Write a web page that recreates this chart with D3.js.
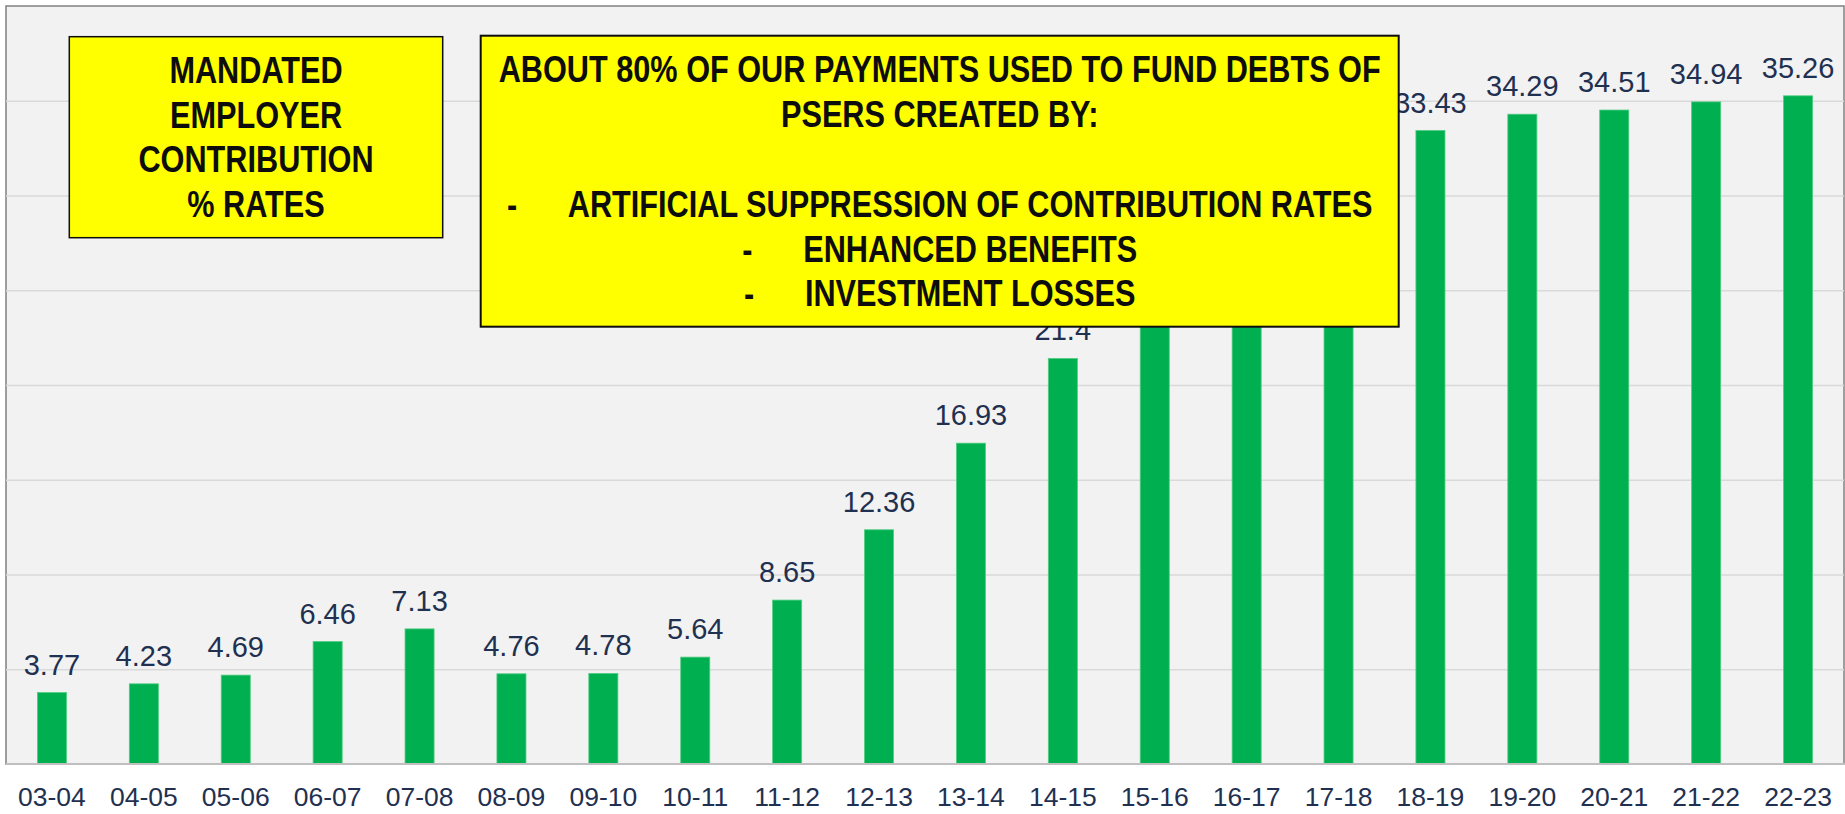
<!DOCTYPE html>
<html>
<head>
<meta charset="utf-8">
<script src="https://cdn.jsdelivr.net/npm/d3@7"></script>
<style>
  body { margin: 0; background: #fff; }
  svg { display: block; font-family: "Liberation Sans", Arial, sans-serif; }
</style>
</head>
<body>
<script>
// chart data
var years = ['03-04','04-05','05-06','06-07','07-08','08-09','09-10','10-11','11-12','12-13',
             '13-14','14-15','15-16','16-17','17-18','18-19','19-20','20-21','21-22','22-23'];
var rates = [3.77, 4.23, 4.69, 6.46, 7.13, 4.76, 4.78, 5.64, 8.65, 12.36,
             16.93, 21.4, 25.84, 30.03, 32.57, 33.43, 34.29, 34.51, 34.94, 35.26];
var gridTicks = [5, 10, 15, 20, 25, 30, 35];

// annotation text
var titleLines = ['MANDATED', 'EMPLOYER', 'CONTRIBUTION', '% RATES'];
var noteLines = [
  {dash: false, text: 'ABOUT 80% OF OUR PAYMENTS USED TO FUND DEBTS OF'},
  {dash: false, text: 'PSERS CREATED BY:'},
  {dash: false, text: ''},
  {dash: true, text: 'ARTIFICIAL SUPPRESSION OF CONTRIBUTION RATES'},
  {dash: true, text: 'ENHANCED BENEFITS'},
  {dash: true, text: 'INVESTMENT LOSSES'}
];

var width = 1845, height = 814;
var plotL = 6, plotR = 1844, plotT = 6, plotB = 764;
var navy = '#1f3050';

var svg = d3.select('body').append('svg')
  .attr('width', width)
  .attr('height', height);

svg.append('rect')
  .attr('x', plotL).attr('y', plotT)
  .attr('width', plotR - plotL).attr('height', plotB - plotT)
  .attr('fill', '#f2f2f2')
  .attr('stroke', '#808080')
  .attr('stroke-width', 1.5);

var x = d3.scaleBand().domain(years).range([plotL, plotR])
  .paddingInner(0.684).paddingOuter(0.342);
var y = d3.scaleLinear().domain([0, 40]).range([plotB, plotT]);

// gridlines
svg.append('g')
  .attr('transform', 'translate(' + plotL + ',0)')
  .call(d3.axisLeft(y).tickValues(gridTicks).tickSize(-(plotR - plotL)).tickFormat(''))
  .call(function(g){
    g.select('.domain').remove();
    g.selectAll('.tick line').attr('stroke', '#d9d9d9').attr('stroke-width', 1.5);
  });

// bars
svg.selectAll('rect.bar').data(rates).enter()
  .append('rect')
  .attr('class', 'bar')
  .attr('x', function(d, i){ return x(years[i]); })
  .attr('y', function(d){ return y(d); })
  .attr('width', x.bandwidth())
  .attr('height', function(d){ return y(0) - y(d); })
  .attr('fill', '#00b050')
  .attr('stroke', '#4fcc80')
  .attr('stroke-width', 0.8);

// value labels (the ones under the big box stay hidden, as in the original)
svg.selectAll('text.val').data(rates).enter()
  .append('text')
  .attr('class', 'val')
  .attr('x', function(d, i){ return x(years[i]) + x.bandwidth() / 2; })
  .attr('y', function(d){ return y(d) - 18; })
  .attr('text-anchor', 'middle')
  .attr('font-size', 29)
  .attr('fill', navy)
  .text(function(d){ return d; });

// x axis
svg.append('g')
  .attr('transform', 'translate(0,' + plotB + ')')
  .call(d3.axisBottom(x).tickSize(0).tickPadding(23))
  .call(function(g){
    g.select('.domain').attr('stroke', '#bfbfbf').attr('stroke-width', 2)
      .attr('d', 'M' + plotL + ',0H' + width);
    g.selectAll('text')
      .attr('font-size', 26.5)
      .attr('font-family', '"Liberation Sans", Arial, sans-serif')
      .attr('fill', navy);
  });

// yellow note boxes
function noteBox(bx, by, bw, bh, sw, firstBase, lineGap, lines){
  svg.append('rect')
    .attr('x', bx).attr('y', by)
    .attr('width', bw).attr('height', bh)
    .attr('fill', '#ffff00')
    .attr('stroke', '#0d0d0d')
    .attr('stroke-width', sw);
  var g = svg.append('g')
    .attr('transform', 'translate(' + (bx + bw / 2) + ',0) scale(0.845,1)');
  lines.forEach(function(l, i){
    var t = g.append('text')
      .attr('x', 0)
      .attr('y', firstBase + i * lineGap)
      .attr('text-anchor', 'middle')
      .attr('font-size', 36.3)
      .attr('font-weight', 'bold')
      .attr('fill', '#0d0d0d');
    if (typeof l === 'string') { t.text(l); return; }
    if (l.dash) {
      t.append('tspan').text('-');
      t.append('tspan').attr('dx', 60).text(l.text);
    } else {
      t.text(l.text);
    }
  });
}

noteBox(69.3, 36.7, 373.4, 201, 1.5, 82.7, 44.9, titleLines);
noteBox(480.7, 35.7, 918, 291, 2, 82.5, 44.8, noteLines);
</script>
</body>
</html>
